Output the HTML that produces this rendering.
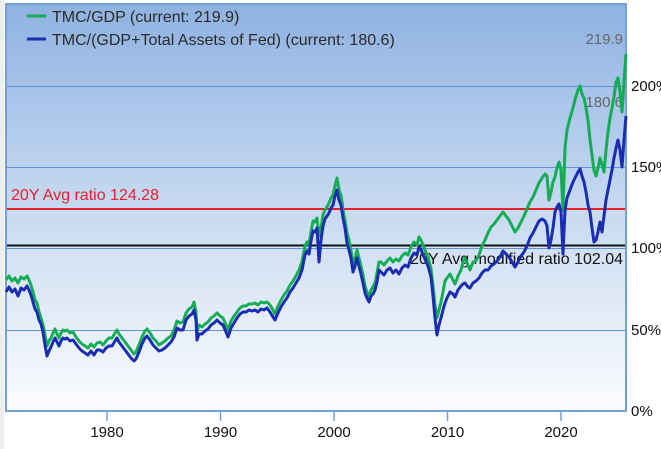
<!DOCTYPE html>
<html><head><meta charset="utf-8"><style>
html,body{margin:0;padding:0;background:#fff;}
svg{display:block;}
text{font-family:"Liberation Sans",sans-serif;}
</style></head><body>
<svg width="661" height="449" viewBox="0 0 661 449" xmlns="http://www.w3.org/2000/svg">
<defs>
<linearGradient id="bg" x1="0" y1="0" x2="0" y2="1">
<stop offset="0" stop-color="#8fb2e1"/>
<stop offset="0.25" stop-color="#abc6eb"/>
<stop offset="0.5" stop-color="#c7d9f0"/>
<stop offset="0.75" stop-color="#e2ebf7"/>
<stop offset="1" stop-color="#fbfcff"/>
</linearGradient>
</defs>
<rect x="0" y="0" width="661" height="449" fill="#ffffff"/>
<rect x="0" y="0" width="4" height="449" fill="#eeeeee"/>
<rect x="6" y="4" width="620" height="407" fill="url(#bg)" stroke="#74a0da" stroke-width="2"/>
<g stroke="#5e93dc" stroke-width="1">
<line x1="7" y1="86.5" x2="625" y2="86.5"/>
<line x1="7" y1="167.5" x2="625" y2="167.5"/>
<line x1="7" y1="248.5" x2="625" y2="248.5"/>
<line x1="7" y1="330.5" x2="625" y2="330.5"/>
</g>
<line x1="7" y1="209" x2="625" y2="209" stroke="#e8202a" stroke-width="2"/>
<line x1="7" y1="245.5" x2="625" y2="245.5" stroke="#111" stroke-width="2"/>
<text x="11" y="200" font-size="16" fill="#e8202a">20Y Avg ratio 124.28</text>
<text x="623" y="264" font-size="16" fill="#111" text-anchor="end">20Y Avg modified ratio 102.04</text>
<text x="623" y="44" font-size="15" fill="#666" text-anchor="end">219.9</text>
<text x="623" y="107" font-size="15" fill="#666" text-anchor="end">180.6</text>
<polyline fill="none" stroke="#14ad55" stroke-width="3" stroke-linejoin="round" points="6,280 9,276 12,281 15,278 18,283 21,277 24,279 27,276 29,280 31,285 33,292 35,300 37,303 39,312 41,318 43,325 45,335 47,346 49,341 51,338 53,333 55,329 57,334 59,338 61,333 63,330 65,331 67,330 70,333 73,332 76,337 79,341 82,344 85,346 88,348 91,344 94,347 97,343 100,342 103,345 106,341 109,338 112,338 115,333 117,330 119,334 122,338 125,342 128,346 131,350 134,354 136,352 139,345 142,337 145,331 147,329 150,333 153,338 156,341 159,345 162,343 165,341 168,338 171,336 174,330 177,321 180,323 183,322 186,313 189,309 192,307 194,302 196,312 197,332 199,325 202,327 205,324 208,322 211,318 214,316 217,313 220,316 223,318 226,325 228,330 231,321 234,316 237,312 240,308 243,306 246,306 249,304 252,304 255,303 258,305 261,302 264,303 267,302 270,305 273,310 275,314 278,306 281,300 284,295 287,291 290,285 293,281 296,276 299,270 302,262 305,246 307,242 309,245 311,232 313,221 315,222 317,218 319,236 321,228 323,215 325,210 327,207 329,203 331,198 333,195 335,186 337,178 339,190 341,195 343,210 345,220 347,233 349,240 351,250 353,266 355,258 357,250 359,258 361,266 363,275 365,286 367,292 369,297 371,290 373,287 375,283 377,273 379,262 381,262 384,265 387,261 390,258 393,262 396,259 399,261 402,256 405,253 408,255 411,247 414,242 417,245 419,237 421,240 423,245 425,250 428,257 431,269 433,285 435,305 437,318 439,310 441,302 443,292 445,281 447,278 450,274 453,280 455,284 458,276 461,270 463,262 465,258 468,265 470,270 473,262 476,261 479,255 482,246 485,240 488,233 491,227 494,224 497,220 500,216 503,212 506,216 509,220 512,226 515,232 518,228 521,222 524,216 527,209 530,202 533,197 536,190 539,183 542,178 545,174 547,176 549,200 551,192 553,182 555,177 557,168 559,162 561,170 563,210 565,148 567,130 570,118 573,108 576,96 578,90 580,86 582,94 584,98 586,108 588,120 590,140 592,155 594,170 596,176 598,168 600,158 602,165 604,172 606,150 608,132 610,118 612,108 614,97 616,82 618,78 620,92 622,112 624,82 626,54"/>
<polyline fill="none" stroke="#1a2db0" stroke-width="3" stroke-linejoin="round" points="6,292 9,287 12,292 15,289 18,296 21,288 24,290 27,286 29,290 31,295 33,302 35,309 37,312 39,320 41,324 43,332 45,345 47,356 49,351 51,347 53,342 55,338 57,342 59,346 61,341 63,338 65,339 67,338 70,341 73,340 76,344 79,348 82,351 85,353 88,355 91,351 94,355 97,350 100,350 103,352 106,348 109,346 112,346 115,341 117,338 119,342 122,346 125,350 128,354 131,358 134,361 136,359 139,352 142,344 145,338 147,336 150,340 153,345 156,348 159,351 162,350 165,348 168,345 171,342 174,337 177,328 180,330 183,330 186,320 189,316 192,314 194,310 196,320 197,340 199,334 202,334 205,331 208,329 211,325 214,323 217,320 220,323 223,325 226,332 228,337 231,328 234,323 237,318 240,314 243,312 246,312 249,310 252,311 255,310 258,312 261,309 264,310 267,308 270,312 273,317 275,320 278,313 281,307 284,302 287,298 290,292 293,288 296,283 299,278 302,270 305,255 307,251 309,254 311,241 313,231 315,232 317,228 319,262 321,240 323,226 325,219 327,216 329,213 331,208 333,205 335,196 337,190 339,200 341,205 343,218 345,228 347,243 349,250 351,258 353,272 355,266 357,258 359,266 361,274 363,283 365,293 367,298 369,302 371,296 373,294 375,290 377,282 379,270 381,272 384,275 387,270 390,268 393,273 396,270 399,274 402,268 405,265 408,267 411,258 414,253 417,255 419,247 421,249 423,255 425,259 428,266 431,277 433,296 435,318 437,335 439,325 441,318 443,310 445,303 447,298 450,292 453,294 455,297 458,290 461,286 463,284 465,283 468,287 470,288 473,283 476,281 479,278 482,273 485,270 488,270 491,266 494,264 497,261 500,257 503,251 506,254 509,257 512,262 515,267 518,262 521,256 524,252 527,246 530,238 533,233 536,227 539,221 542,219 545,221 547,226 549,248 551,240 553,228 555,212 557,207 559,204 561,212 563,254 565,210 567,198 570,190 573,182 576,176 578,172 580,169 582,176 584,182 586,192 588,205 590,212 592,228 594,242 596,240 598,232 600,222 602,232 604,216 606,200 608,190 610,180 612,170 614,158 616,148 618,140 620,150 622,167 624,140 626,116"/>
<line x1="27" y1="16" x2="46" y2="16" stroke="#14ad55" stroke-width="3"/>
<line x1="27" y1="39" x2="46" y2="39" stroke="#1a2db0" stroke-width="3"/>
<text x="52" y="22" font-size="16" fill="#2a2a2a">TMC/GDP (current: 219.9)</text>
<text x="52" y="45" font-size="16" fill="#2a2a2a">TMC/(GDP+Total Assets of Fed) (current: 180.6)</text>
<g stroke="#74a0da" stroke-width="1.5">
<line x1="107" y1="412" x2="107" y2="421"/>
<line x1="220.5" y1="412" x2="220.5" y2="421"/>
<line x1="334" y1="412" x2="334" y2="421"/>
<line x1="447.5" y1="412" x2="447.5" y2="421"/>
<line x1="561" y1="412" x2="561" y2="421"/>
</g>
<g font-size="15" fill="#111" text-anchor="middle">
<text x="107" y="437">1980</text>
<text x="220.5" y="437">1990</text>
<text x="334" y="437">2000</text>
<text x="447.5" y="437">2010</text>
<text x="561" y="437">2020</text>
</g>
<g font-size="15" fill="#111">
<text x="631" y="91">200%</text>
<text x="631" y="172">150%</text>
<text x="631" y="253">100%</text>
<text x="631" y="335">50%</text>
<text x="631" y="416">0%</text>
</g>
</svg>
</body></html>
